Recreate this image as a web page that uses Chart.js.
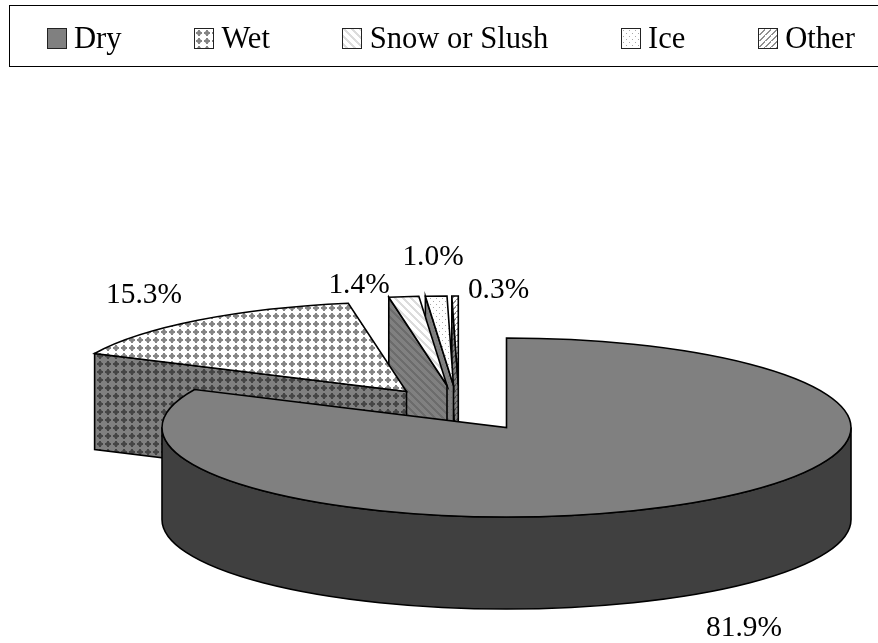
<!DOCTYPE html>
<html>
<head>
<meta charset="utf-8">
<script src="https://cdn.jsdelivr.net/npm/chart.js@4"></script>
<style>
    html, body { margin: 0; padding: 0; background: #fff; overflow: hidden; }
    #wrap { position: relative; width: 878px; height: 643px; font-family: "Liberation Serif", serif; }
    #legend {
        position: absolute; left: 9px; top: 5px; width: 869px; height: 62px;
        border: 1.5px solid #000; border-right: none; box-sizing: border-box;
        display: flex; align-items: center; gap: 72.3px; padding: 4px 0 0 36.5px;
        font-size: 30.6px; color: #000;
    }
    #legend div { display: flex; align-items: center; white-space: nowrap; }
    #legend span { width: 20px; height: 21px; border: 1.5px solid #222; box-sizing: border-box; margin-right: 7.5px; }
</style>
</head>
<body>
<div id="wrap">
    <div id="legend"></div>
    <canvas id="roadChart" width="878" height="643"></canvas>
</div>
<script>
const categories = ['Dry', 'Wet', 'Snow or Slush', 'Ice', 'Other'];
const shares = [81.9, 15.3, 1.4, 1.0, 0.3];

// Look of the fake 3D pie
const SQUASH = 89.5 / 344.5;
const explode = [
    { dx: 0, dy: 0, depth: 92 },
    { dx: -100, dy: -36, depth: 96 },
    { dx: -59.5, dy: -42, depth: 92 },
    { dx: -53, dy: -42, depth: 92 },
    { dx: -48.2, dy: -42, depth: 92 }
];
const labelSpots = [[744, 636], [144, 303], [359, 293], [433, 265], [498.5, 298]];

// Draws one small repeating tile and returns its canvas
function tile(w, h, bg, fg, cells, soft, softCells) {
    const c = document.createElement('canvas');
    c.width = w;
    c.height = h;
    const g = c.getContext('2d');
    g.fillStyle = bg;
    g.fillRect(0, 0, w, h);
    if (soft) {
        g.fillStyle = soft;
        softCells.forEach(r => g.fillRect(r[0], r[1], r[2], r[3]));
    }
    g.fillStyle = fg;
    cells.forEach(r => g.fillRect(r[0], r[1], r[2], r[3]));
    return c;
}

const plus = [[1, 3, 6, 2], [3, 1, 2, 6]];
const plusCorners = [[2, 2, 4, 4]];
const weave = [[0, 0, 3, 1], [1, 1, 3, 1], [2, 2, 3, 1], [3, 3, 3, 1], [4, 4, 3, 1], [5, 5, 3, 1], [6, 6, 2, 1], [0, 6, 1, 1], [7, 7, 1, 1], [0, 7, 2, 1]];
const dots = [[1, 1, 1, 1], [4, 4, 1, 1]];
const stripes = [[5, 0, 2, 1], [4, 1, 2, 1], [3, 2, 2, 1], [2, 3, 2, 1], [1, 4, 2, 1], [0, 5, 2, 1]];

const topTiles = [
    tile(1, 1, '#808080', '#808080', []),
    tile(8, 8, '#ffffff', '#858585', plus, '#b4b4b4', plusCorners),
    tile(8, 8, '#ffffff', '#dcdcdc', weave),
    tile(6, 6, '#ffffff', '#a8a8a8', dots),
    tile(6, 6, '#ffffff', '#909090', stripes)
];
const sideTiles = [
    tile(1, 1, '#404040', '#404040', []),
    tile(8, 8, '#808080', '#454545', plus, '#5e5e5e', plusCorners),
    tile(8, 8, '#808080', '#6c6c6c', weave),
    tile(6, 6, '#808080', '#707070', dots),
    tile(6, 6, '#808080', '#505050', stripes)
];

const ctx = document.getElementById('roadChart').getContext('2d');
const topFills = topTiles.map(t => ctx.createPattern(t, 'repeat'));
const sideFills = sideTiles.map(t => ctx.createPattern(t, 'repeat'));

// Replaces the flat pie drawing: same arcs, squashed and extruded
const pie3d = {
    id: 'pie3d',
    beforeDatasetDraw(chart, args) {
        const arcs = args.meta.data;
        const c = chart.ctx;
        c.save();
        c.lineJoin = 'miter';
        for (let i = arcs.length - 1; i >= 0; i--) {
            const arc = arcs[i];
            const e = explode[i];
            const x = arc.x + e.dx;
            const y = arc.y + e.dy;
            const rx = arc.outerRadius;
            const ry = rx * SQUASH;
            c.strokeStyle = arc.options.borderColor;
            c.lineWidth = arc.options.borderWidth;

            // side first
            c.beginPath();
            if (arc.endAngle - arc.startAngle > Math.PI) {
                c.moveTo(x - rx, y);
                c.lineTo(x - rx, y + e.depth);
                c.ellipse(x, y + e.depth, rx, ry, 0, Math.PI, 0, true);
                c.lineTo(x + rx, y);
                c.ellipse(x, y, rx, ry, 0, 0, Math.PI, false);
            } else {
                const ox = x + Math.cos(arc.startAngle) * rx;
                const oy = y + Math.sin(arc.startAngle) * ry;
                c.moveTo(ox, oy);
                c.lineTo(x, y);
                c.lineTo(x, y + e.depth);
                c.lineTo(ox, oy + e.depth);
            }
            c.closePath();
            c.fillStyle = sideFills[i];
            c.fill();
            c.stroke();

            // then the top
            c.beginPath();
            c.moveTo(x, y);
            c.ellipse(x, y, rx, ry, 0, arc.startAngle, arc.endAngle, false);
            c.closePath();
            c.fillStyle = arc.options.backgroundColor;
            c.fill();
            c.stroke();
        }
        c.restore();
        return false;
    },
    afterDatasetsDraw(chart) {
        const c = chart.ctx;
        c.save();
        c.font = '29.4px "Liberation Serif"';
        c.fillStyle = '#000';
        c.textAlign = 'center';
        c.textBaseline = 'alphabetic';
        shares.forEach((v, i) => {
            c.fillText(v.toFixed(1) + '%', labelSpots[i][0], labelSpots[i][1]);
        });
        c.restore();
    }
};

new Chart(ctx, {
    type: 'pie',
    data: {
        labels: categories,
        datasets: [{
            data: shares,
            backgroundColor: topFills,
            borderColor: '#000',
            borderWidth: 1.6,
            radius: 344.5
        }]
    },
    options: {
        responsive: false,
        animation: false,
        events: [],
        // puts the pie centre at 506.5, 427.5
        layout: { padding: { left: 135, top: 212 } },
        plugins: {
            legend: { display: false },
            tooltip: { enabled: false }
        }
    },
    plugins: [pie3d]
});

// HTML legend, same order as the slices
const legendBox = document.getElementById('legend');
categories.forEach((name, i) => {
    const item = document.createElement('div');
    const swatch = document.createElement('span');
    swatch.style.background = 'url(' + topTiles[i].toDataURL() + ')';
    item.appendChild(swatch);
    item.appendChild(document.createTextNode(name));
    legendBox.appendChild(item);
});
</script>
</body>
</html>
